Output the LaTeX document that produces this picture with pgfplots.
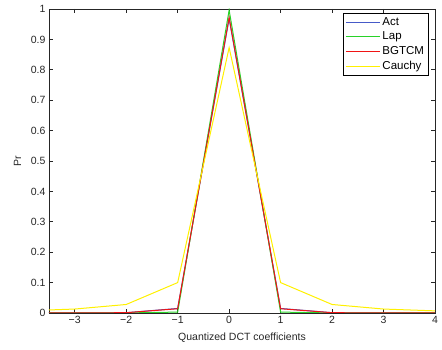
\documentclass[border=0pt]{standalone}
\usepackage{pgfplots}
\pgfplotsset{compat=1.18}
\usepackage{fontspec}
\setmainfont{Liberation Sans}
\definecolor{actc}{RGB}{70,90,200}
\definecolor{lapc}{RGB}{40,210,40}
\definecolor{bgc}{RGB}{240,20,20}
\definecolor{cauc}{RGB}{255,240,0}
\begin{document}
\begin{tikzpicture}
\begin{axis}[
  scale only axis,
  width=386pt, height=304pt,
  xmin=-3.5, xmax=4, ymin=0, ymax=1,
  xtick={-3,-2,-1,0,1,2,3,4},
  ytick={0,0.1,0.2,0.3,0.4,0.5,0.6,0.7,0.8,0.9,1},
  yticklabels={0,0.1,0.2,0.3,0.4,0.5,0.6,0.7,0.8,0.9,1},
  xticklabels={\textminus3,\textminus2,\textminus1,0,1,2,3,4},
  tick align=inside,
  major tick length=4pt,
  axis line style={black!85, line width=0.8pt},
  every tick/.style={black!85, line width=0.6pt},
  tick label style={font=\fontsize{10.5}{12}\selectfont, text=black!85},
  xlabel={Quantized DCT coefficients},
  ylabel={Pr},
  label style={font=\fontsize{10.5}{12}\selectfont, text=black!85},
  xlabel style={yshift=-2pt},
  ylabel style={yshift=3pt},
  legend style={at={(rel axis cs:0.984,0.988)}, anchor=north east,
    font=\fontsize{11.5}{13}\selectfont, draw=black, line width=0.6pt,
    row sep=1.2pt, inner sep=2.5pt, legend cell align=left},
  legend image code/.code={\draw[#1, line width=1pt] (0cm,0cm) -- (1.2cm,0cm);},
  clip=true,
]
\addplot[actc, line width=1pt] coordinates {(-4,0) (-3,0.0002) (-2,0.001) (-1,0.015) (0,0.968) (1,0.015) (2,0.001) (3,0.0002) (4,0)};
\addlegendentry{Act}
\addplot[lapc, line width=1pt] coordinates {(-4,0) (-3,0) (-2,0.0001) (-1,0.003) (0,0.996) (1,0.003) (2,0.0001) (3,0) (4,0)};
\addlegendentry{Lap}
\addplot[bgc, line width=1pt] coordinates {(-4,0) (-3,0.0002) (-2,0.001) (-1,0.014) (0,0.972) (1,0.014) (2,0.001) (3,0.0002) (4,0)};
\addlegendentry{BGTCM}
\addplot[cauc, line width=1pt] coordinates {(-4,0.007) (-3,0.013) (-2,0.028) (-1,0.1) (0,0.873) (1,0.1) (2,0.028) (3,0.013) (4,0.007)};
\addlegendentry{Cauchy}
\coordinate (bl) at (rel axis cs:0,0);
\coordinate (tr) at (rel axis cs:1,1);
\end{axis}
\pgfresetboundingbox
\path ([shift={(-49pt,-37pt)}]bl) rectangle ([shift={(7pt,9pt)}]tr);
\end{tikzpicture}
\end{document}
